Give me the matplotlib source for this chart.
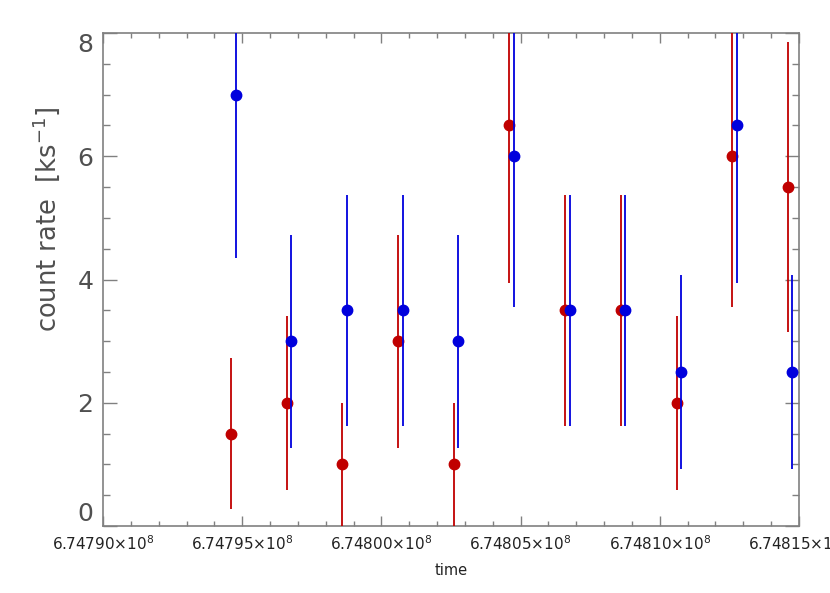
import matplotlib
matplotlib.use("Agg")
import matplotlib.pyplot as plt
from matplotlib.ticker import MultipleLocator, FuncFormatter

# ---- data ----
red_time = [674794600, 674796600, 674798600, 674800600, 674802600, 674804600,
            674806600, 674808600, 674810600, 674812600, 674814600]
red_rate = [1.5, 2.0, 1.0, 3.0, 1.0, 6.5, 3.5, 3.5, 2.0, 6.0, 5.5]
red_err = [1.22, 1.41, 1.0, 1.73, 1.0, 2.55, 1.87, 1.87, 1.41, 2.45, 2.35]

blue_time = [674794760, 674796760, 674798760, 674800760, 674802760, 674804760,
             674806760, 674808760, 674810760, 674812760, 674814760]
blue_rate = [7.0, 3.0, 3.5, 3.5, 3.0, 6.0, 3.5, 3.5, 2.5, 6.5, 2.5]
blue_err = [2.65, 1.73, 1.87, 1.87, 1.73, 2.45, 1.87, 1.87, 1.58, 2.55, 1.58]

x_min, x_max = 674790000, 674815000
y_min, y_max = 0, 8

RED = "#C00000"
BLUE = "#0000DD"
FRAME = "#808080"

plt.rcParams['font.family'] = ['DejaVu Sans']
plt.rcParams['mathtext.fontset'] = 'dejavusans'

fig = plt.figure(figsize=(8.30, 5.93), dpi=100)
ax = fig.add_axes([103/830, 1-526/593, 696/830, 493/593])

ax.errorbar(red_time, red_rate, yerr=red_err, fmt='o', color=RED, ecolor=RED,
            elinewidth=1.3, markersize=7.5, capsize=0, zorder=3)
ax.errorbar(blue_time, blue_rate, yerr=blue_err, fmt='o', color=BLUE, ecolor=BLUE,
            elinewidth=1.3, markersize=7.5, capsize=0, zorder=4)

ax.set_xlim(x_min, x_max)
ax.set_ylim(y_min, y_max)

ax.xaxis.set_major_locator(MultipleLocator(5000))
ax.xaxis.set_minor_locator(MultipleLocator(1000))
ax.yaxis.set_major_locator(MultipleLocator(2))
ax.yaxis.set_minor_locator(MultipleLocator(0.5))

ax.xaxis.set_major_formatter(FuncFormatter(lambda v, p: f"{v/1e8:.5f}" + r"$\times10^{8}$"))
ax.yaxis.set_major_formatter(FuncFormatter(lambda v, p: f"{v:.0f}"))

for s in ax.spines.values():
    s.set_color(FRAME)
    s.set_linewidth(1.2)

ax.tick_params(axis='x', which='major', direction='in', length=7.2, width=1.0,
               color=FRAME, top=True, bottom=True, labelsize=11, labelcolor='#222222', pad=6)
ax.tick_params(axis='x', which='minor', direction='in', length=3.6, width=1.0,
               color=FRAME, top=True, bottom=True)
ax.tick_params(axis='y', which='major', direction='in', length=10, width=1.0,
               color=FRAME, left=True, right=True, labelsize=18, labelcolor='#505050', pad=7)
ax.tick_params(axis='y', which='minor', direction='in', length=5, width=1.0,
               color=FRAME, left=True, right=True)

ax.set_xlabel("time", fontsize=10.5, color='#222222')
ax.xaxis.set_label_coords(0.5, -0.075)
ax.set_ylabel(r"count rate  [ks$^{-1}$]", fontsize=18.5, color='#505050')
ax.yaxis.set_label_coords(-0.059, 0.623)

fig.canvas.draw()
for tick in ax.yaxis.get_major_ticks():
    loc = tick.get_loc()
    if abs(loc - y_min) < 1e-9:
        tick.label1.set_verticalalignment('bottom')
    elif abs(loc - y_max) < 1e-9:
        tick.label1.set_verticalalignment('top')

fig.savefig("out.png", dpi=100)
